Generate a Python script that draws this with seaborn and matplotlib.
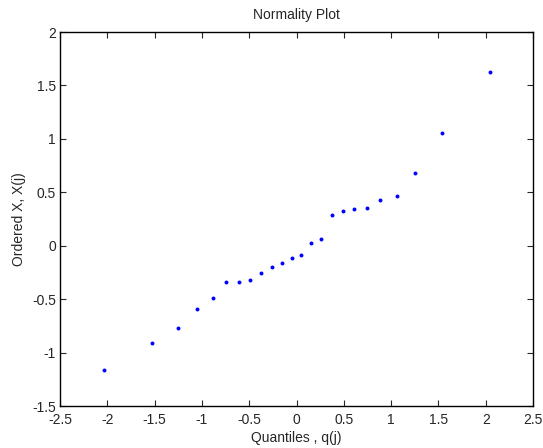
import matplotlib
matplotlib.use("Agg")
import matplotlib.pyplot as plt
import seaborn as sns
import pandas as pd

quantiles = [-2.038, -1.531, -1.256, -1.055, -0.883, -0.745, -0.604, -0.492,
             -0.375, -0.259, -0.157, -0.051, 0.051, 0.157, 0.262, 0.375,
             0.492, 0.604, 0.745, 0.886, 1.059, 1.256, 1.535, 2.042]
ordered = [-1.162, -0.915, -0.772, -0.588, -0.485, -0.342, -0.342, -0.323,
           -0.251, -0.201, -0.158, -0.117, -0.086, 0.026, 0.067, 0.291,
           0.322, 0.344, 0.354, 0.425, 0.466, 0.681, 1.058, 1.623]
xticks = [-2.5, -2, -1.5, -1, -0.5, 0, 0.5, 1, 1.5, 2, 2.5]
yticks = [-1.5, -1, -0.5, 0, 0.5, 1, 1.5, 2]

df = pd.DataFrame({"q": quantiles, "x": ordered})

sns.set_style("ticks")
plt.rcParams["font.family"] = ["Liberation Sans", "DejaVu Sans"]

fig = plt.figure(figsize=(5.43, 4.48), dpi=100)
ax = fig.add_axes([60/543, (448-406)/448, (533-60)/543, (406-32)/448])
sns.scatterplot(data=df, x="q", y="x", ax=ax, color="blue", s=8, linewidth=0, marker="o")
ax.set_xlim(-2.5, 2.5)
ax.set_ylim(-1.5, 2)
ax.set_xticks(xticks)
ax.set_yticks(yticks)
ax.set_xticklabels([f"{t:g}" for t in xticks])
ax.set_yticklabels([f"{t:g}" for t in yticks])
ax.tick_params(direction="in", top=True, right=True, labelsize=10, length=4, width=0.8)
ax.tick_params(axis="x", pad=5)
ax.tick_params(axis="y", pad=3)
for s in ax.spines.values():
    s.set_linewidth(1.0)
    s.set_color("black")
ax.set_xlabel("Quantiles , q(j)", fontsize=10, labelpad=3)
ax.set_ylabel("Ordered X, X(j)", fontsize=10, labelpad=4)
ax.set_title("Normality Plot", fontsize=10, pad=9)
fig.savefig("out.png", dpi=100)
